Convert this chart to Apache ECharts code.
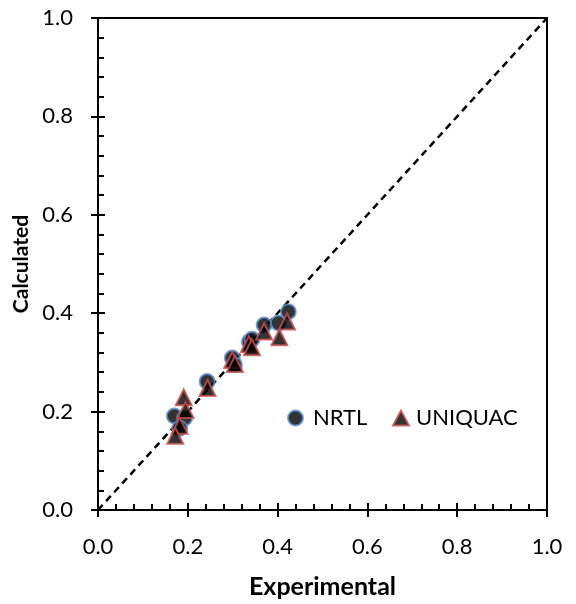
<!DOCTYPE html>
<html>
<head>
<meta charset="utf-8">
<script src="https://cdn.jsdelivr.net/npm/echarts@6/dist/echarts.min.js"></script>
<style>
  html, body { margin: 0; padding: 0; background: #fff; }
  #chart { width: 576px; height: 604px; }
</style>
</head>
<body>
<div id="chart"></div>
<script>
// Experimental vs calculated values for the two activity-coefficient models
const nrtlExp  = [0.170, 0.193, 0.182, 0.243, 0.299, 0.304, 0.337, 0.343, 0.370, 0.402, 0.424];
const nrtlCalc = [0.191, 0.187, 0.166, 0.261, 0.309, 0.295, 0.342, 0.347, 0.376, 0.380, 0.403];

const uniqExp  = [0.191, 0.195, 0.182, 0.172, 0.244, 0.299, 0.305, 0.336, 0.343, 0.370, 0.404, 0.421];
const uniqCalc = [0.229, 0.203, 0.171, 0.151, 0.248, 0.305, 0.297, 0.337, 0.331, 0.363, 0.351, 0.383];

const parityLine = [[0, 0], [1, 1]];
const tickLabels = ['0.0', '0.2', '0.4', '0.6', '0.8', '1.0'];

const pairs = (xs, ys) => xs.map((x, i) => [x, ys[i]]);
const font = 'Lato, "Open Sans", sans-serif';

const baseAxis = {
  min: 0, max: 1, interval: 0.2,
  axisLine: { show: true, onZero: false, lineStyle: { color: '#000', width: 2 } },
  splitLine: { show: false },
};

const legendText = (padLeft) => ({ fontFamily: font, fontSize: 22, color: '#000', padding: [0, 0, 0, padLeft] });

const chart = echarts.init(document.getElementById('chart'));
chart.setOption({
  animation: false,
  grid: {
    left: 98, right: 29, top: 18, bottom: 94,
    containLabel: false, outerBoundsMode: 'none',
    show: true, borderColor: '#000', borderWidth: 2
  },
  legend: [
    {
      left: 282, top: 402, itemWidth: 15, itemHeight: 15,
      textStyle: legendText(5), data: ['NRTL']
    },
    {
      left: 387, top: 402, itemWidth: 16, itemHeight: 15,
      textStyle: legendText(2), data: ['UNIQUAC']
    }
  ],
  xAxis: [
    Object.assign({}, baseAxis, {
      type: 'value', position: 'bottom',
      name: 'Experimental', nameLocation: 'middle', nameGap: 64,
      nameTextStyle: { fontFamily: font, fontSize: 25, fontWeight: 'bold', color: '#000' },
      axisLabel: { fontFamily: font, fontSize: 22, color: '#000', margin: 26,
                   formatter: v => tickLabels[Math.round(v * 5)] },
      axisTick: { show: true, inside: true, length: 7, lineStyle: { color: '#000', width: 2 } },
      minorTick: { show: true, splitNumber: 5, length: 6, lineStyle: { color: '#000', width: 2 } }
    }),
    Object.assign({}, baseAxis, {
      type: 'value', position: 'bottom', gridIndex: 0,
      axisLabel: { show: false },
      axisTick: { show: true, inside: false, length: 7, lineStyle: { color: '#000', width: 2 } }
    })
  ],
  yAxis: [
    Object.assign({}, baseAxis, {
      type: 'value', position: 'left',
      name: 'Calculated', nameLocation: 'middle', nameGap: 63, nameRotate: 90,
      nameTextStyle: { fontFamily: font, fontSize: 21, fontWeight: 'bold', color: '#000' },
      axisLabel: { fontFamily: font, fontSize: 22, color: '#000', margin: 25,
                   formatter: v => tickLabels[Math.round(v * 5)] },
      axisTick: { show: true, inside: true, length: 7, lineStyle: { color: '#000', width: 2 } },
      minorTick: { show: true, splitNumber: 5, length: 6, lineStyle: { color: '#000', width: 2 } }
    }),
    Object.assign({}, baseAxis, {
      type: 'value', position: 'left', gridIndex: 0,
      axisLabel: { show: false },
      axisTick: { show: true, inside: false, length: 7, lineStyle: { color: '#000', width: 2 } }
    })
  ],
  series: [
    {
      name: 'parity', type: 'line', data: parityLine,
      symbol: 'none', silent: true,
      lineStyle: { color: '#000', width: 2.5, type: [7, 5] },
      z: 1
    },
    {
      name: 'NRTL', type: 'scatter', data: pairs(nrtlExp, nrtlCalc),
      symbol: 'circle', symbolSize: 15,
      itemStyle: { color: '#000', borderColor: '#5b8fd0', borderWidth: 2 },
      z: 2
    },
    {
      name: 'UNIQUAC', type: 'scatter', data: pairs(uniqExp, uniqCalc),
      symbol: 'triangle', symbolSize: 16,
      itemStyle: { color: '#000', borderColor: '#c9504d', borderWidth: 2 },
      z: 3
    }
  ]
});
</script>
</body>
</html>
